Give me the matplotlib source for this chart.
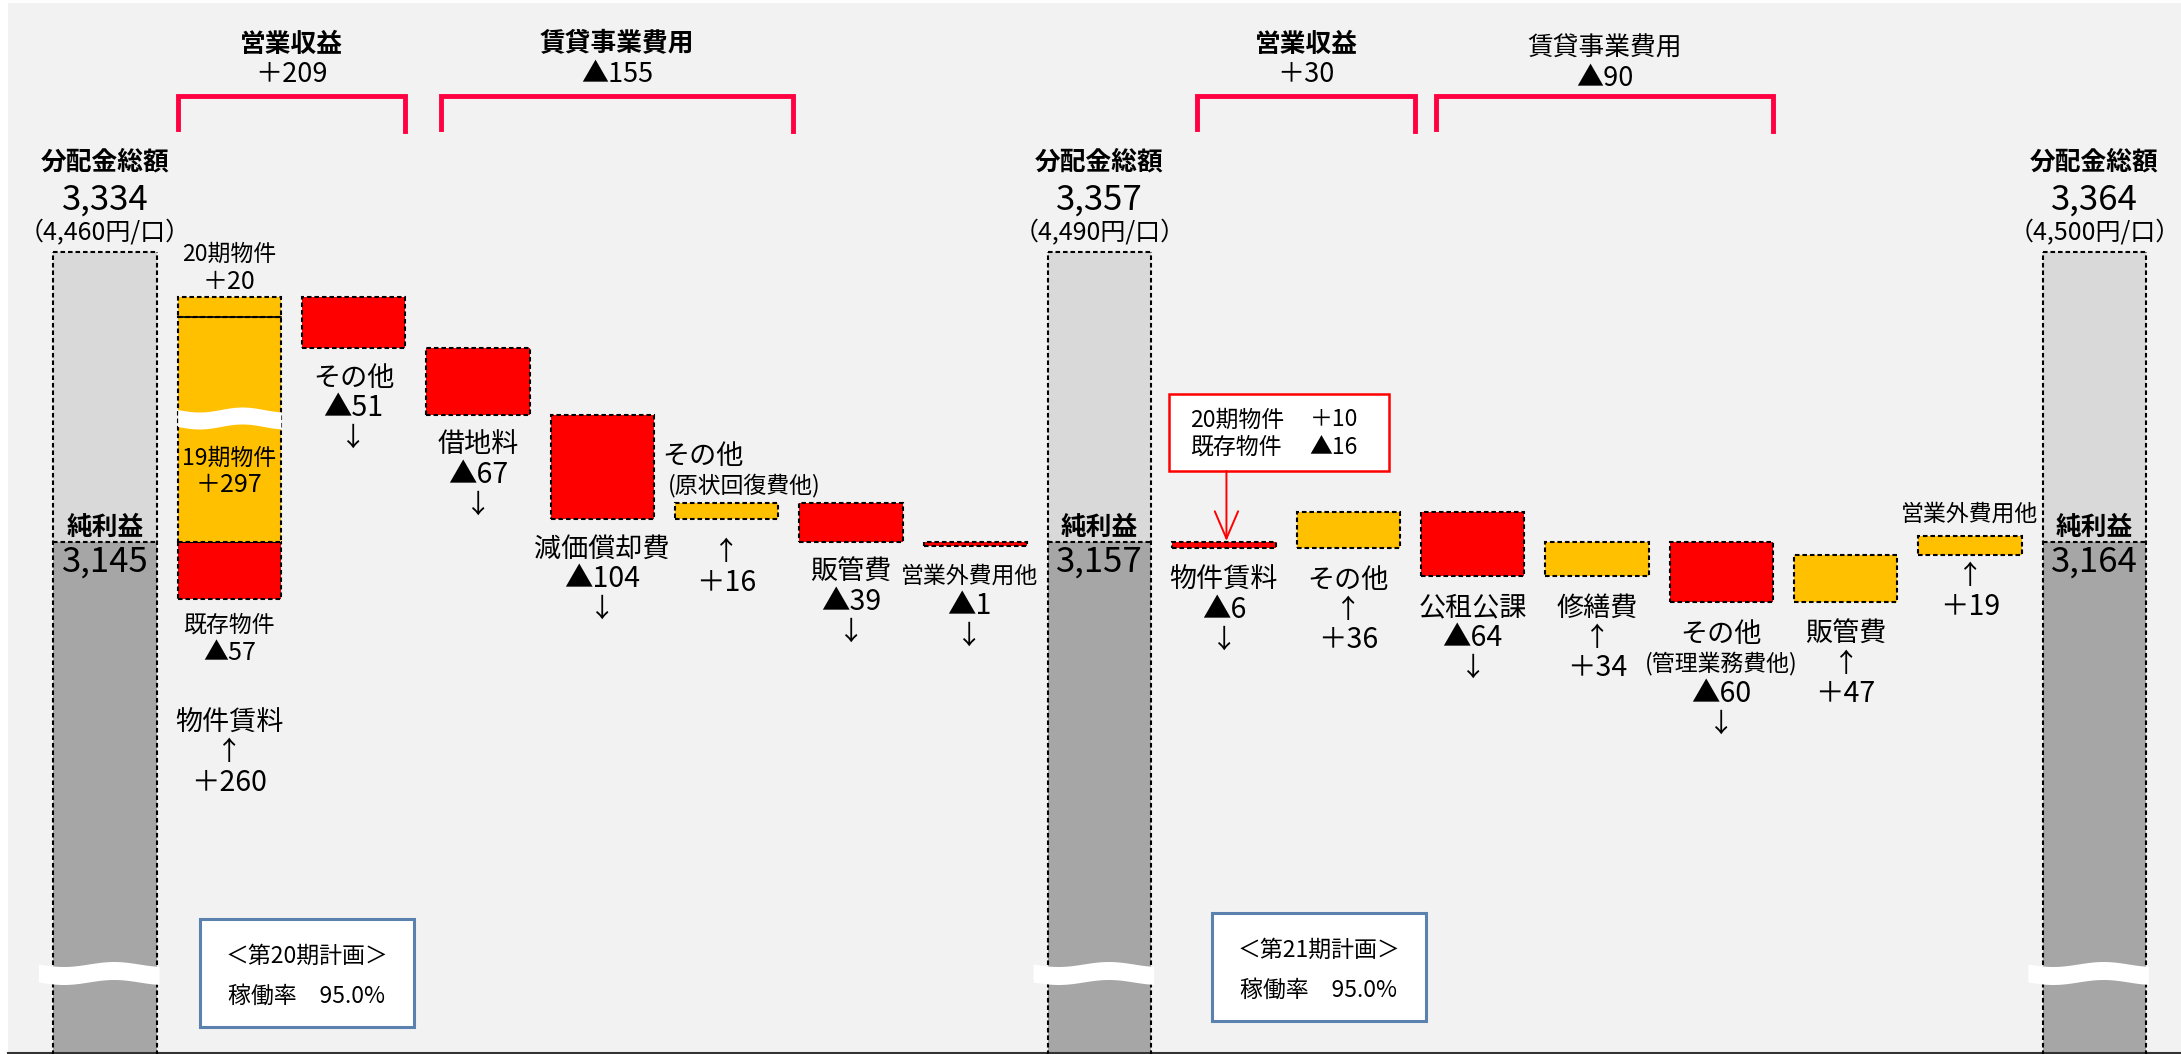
import matplotlib
matplotlib.use('Agg')
import matplotlib.pyplot as plt
from matplotlib.patches import Rectangle
import numpy as np

plt.rcParams['font.family'] = ['Noto Sans CJK JP', 'DejaVu Sans']

# ---- data (百万円) ----
net_income_lbl = ['3,145', '3,157', '3,164']
dist_total_lbl = ['3,334', '3,357', '3,364']
per_unit_lbl = ['（4,460円/口）', '（4,490円/口）', '（4,500円/口）']

g1_names = ['物件賃料', 'その他', '借地料', '減価償却費', 'その他\n(原状回復費他)', '販管費', '営業外費用他']
g1_vals = [260, -51, -67, -104, 16, -39, -1]
rent_part_names = ['既存物件', '19期物件', '20期物件']
rent_part_vals = [-57, 297, 20]

g2_names = ['物件賃料', 'その他', '公租公課', '修繕費', 'その他\n(管理業務費他)', '販管費', '営業外費用他']
g2_vals = [-6, 36, -64, 34, -60, 47, 19]
g2_rent_note = [('20期物件', 10), ('既存物件', -16)]

brackets = [('営業収益', 209, 1, 2, True), ('賃貸事業費用', -155, 3, 5, True),
            ('営業収益', 30, 9, 10, True), ('賃貸事業費用', -90, 11, 13, False)]
plans = [('＜第20期計画＞', '稼働率　95.0%'), ('＜第21期計画＞', '稼働率　95.0%')]

# ---- style ----
RED, YEL = '#FF0000', '#FFC000'
LGRAY, DGRAY = '#D9D9D9', '#A6A6A6'
PINK = '#FF0040'
DASH = (0, (2.2, 1.4))
W = 0.83
BREAK_CUT = 72      # part of the 19期物件 bar hidden by the break
TOTAL_TOP = 290
MIN_H = 4


def fmt(v):
    return ('＋%d' % v) if v > 0 else ('▲%d' % -v)


fig = plt.figure(figsize=(21.81, 10.54), dpi=100)
fig.patch.set_facecolor('white')
ax = fig.add_axes([0, 0, 1, 1])
ax.set_xlim(-0.8437, 16.697)
ax.set_ylim(-512, 542)
ax.axis('off')
ax.add_patch(Rectangle((8 / 2181, 0), 1, 1 - 3 / 1054, transform=ax.transAxes,
                       facecolor='#F2F2F2', edgecolor='none', zorder=0))
ax.plot([8 / 2181, 1], [1.5 / 1054, 1.5 / 1054], transform=ax.transAxes, color='#333333', lw=1.5)


def bar(x, y0, y1, color, z=2):
    h = max(abs(y1 - y0), MIN_H)
    ax.add_patch(Rectangle((x - W / 2, min(y0, y1) if y1 > y0 else max(y0, y1) - h), W, h,
                           facecolor=color, edgecolor='black', ls=DASH, lw=1.5, zorder=z))


def wave(x0, x1, yc, thick=17, amp=2.5):
    xs = np.linspace(x0, x1, 80)
    t = (xs - x0) / (x1 - x0)
    off = -amp * np.sin(2 * np.pi * 1.2 * t)
    ax.fill_between(xs, yc - thick / 2 + off, yc + thick / 2 + off, color='white', lw=0, zorder=4)


def txt(x, y, s, fs=19, bold=False, ha='center', **kw):
    ax.text(x, y, s, ha=ha, va='center', fontsize=fs, fontweight='bold' if bold else 'normal',
            color='black', zorder=6, **kw)


NAME_FS, VAL_FS, SMALL_FS, ARR_FS = 19.5, 20.5, 16.5, 19


def name_lines(name):
    out = []
    for p in name.split('\n'):
        fs = SMALL_FS if (p.startswith('(') or len(p) >= 6) else NAME_FS
        out.append((p, fs))
    return out


def stack(x, y, lines, step=-30):
    for i, (s, fs) in enumerate(lines):
        txt(x, y + i * step, s, fs=fs)


# ---- total bars ----
for i, s in enumerate([0, 8, 16]):
    ax.add_patch(Rectangle((s - W / 2, 0), W, TOTAL_TOP, facecolor=LGRAY, edgecolor='none', zorder=1))
    ax.add_patch(Rectangle((s - W / 2, -520), W, 520, facecolor=DGRAY, edgecolor='none', zorder=1))
    for xx in (s - W / 2, s + W / 2):
        ax.plot([xx, xx], [-520, TOTAL_TOP], color='black', ls=DASH, lw=1.5, zorder=3)
    for yy in (0, TOTAL_TOP):
        ax.plot([s - W / 2, s + W / 2], [yy, yy], color='black', ls=DASH, lw=1.5, zorder=3)
    wave(s - W / 2 - 0.12, s + W / 2 + 0.02, -431, thick=18)
    txt(s, 15, '純利益', fs=18.5, bold=True)
    txt(s, -20, net_income_lbl[i], fs=25)
    txt(s, TOTAL_TOP + 90, '分配金総額', fs=18.5, bold=True)
    txt(s, TOTAL_TOP + 52, dist_total_lbl[i], fs=25)
    txt(s, TOTAL_TOP + 19, per_unit_lbl[i], fs=18)

# ---- group 1 ----
x = 1
# decrease drawn downward from the base, increases stacked upward from the base
neg = rent_part_vals[0]
bar(x, 0, neg, RED)
up = 0
seg = {}
for nm, v in zip(rent_part_names[1:], rent_part_vals[1:]):
    dv = v - BREAK_CUT if nm == '19期物件' else v
    bar(x, up, up + dv, YEL)
    seg[nm] = (up, up + dv)
    up += dv
ax.plot([x - W / 2, x + W / 2], [seg['20期物件'][0]] * 2, color='black', lw=1.2, zorder=3)
wave(x - W / 2, x + W / 2, 124, thick=17)
txt(x, seg['20期物件'][1] + 43, '20期物件', fs=SMALL_FS)
txt(x, seg['20期物件'][1] + 15, fmt(rent_part_vals[2]), fs=18)
txt(x, 84, '19期物件', fs=SMALL_FS)
txt(x, 57, fmt(rent_part_vals[1]), fs=18)
txt(x, neg - 26, '既存物件', fs=SMALL_FS)
txt(x, neg - 54, fmt(neg), fs=18)
stack(x, -181, [(g1_names[0], NAME_FS), ('↑', ARR_FS), (fmt(g1_vals[0]), VAL_FS)])
level = up

for j in range(1, 7):
    x = 1 + j
    v = g1_vals[j]
    y0, y1 = level, level + v
    bar(x, y0, y1, YEL if v > 0 else RED)
    lo, hi = min(y0, y1), max(y0, y1)
    if v < 0:
        lo = min(lo, y0 - MIN_H)
    arrow = '↑' if v > 0 else '↓'
    if j == 4:
        nl = name_lines(g1_names[j])
        txt(x - 0.52, hi + 46, nl[0][0], fs=NAME_FS, ha='left')
        txt(x - 0.47, hi + 18, nl[1][0], fs=SMALL_FS, ha='left')
        stack(x, lo - 34, [(arrow, ARR_FS), (fmt(v), VAL_FS)])
    else:
        lines = name_lines(g1_names[j])
        lines += [(fmt(v), VAL_FS), (arrow, ARR_FS)] if v < 0 else [(arrow, ARR_FS), (fmt(v), VAL_FS)]
        stack(x - (0.05 if j == 6 else 0), lo - 30, lines)
    level = y1

# ---- group 2 ----
level = 0
for j in range(7):
    x = 9 + j
    v = g2_vals[j]
    y0, y1 = level, level + v
    bar(x, y0, y1, YEL if v > 0 else RED)
    lo, hi = min(y0, y1), max(y0, y1)
    arrow = '↑' if v > 0 else '↓'
    if j == 6:
        txt(x, hi + 22, g2_names[j], fs=SMALL_FS)
        stack(x, lo - 22, [(arrow, ARR_FS), (fmt(v), VAL_FS)])
    else:
        lines = name_lines(g2_names[j])
        lines += [(fmt(v), VAL_FS), (arrow, ARR_FS)] if v < 0 else [(arrow, ARR_FS), (fmt(v), VAL_FS)]
        stack(x, lo - 32, lines)
    level = y1

# ---- callout for group 2 rent ----
ax.add_patch(Rectangle((8.558, 71), 1.769, 77, facecolor='white', edgecolor='#FF0000', lw=1.8, zorder=5))
for k, (nm, v) in enumerate(g2_rent_note):
    txt(8.727, 122 - 27 * k, nm, fs=16.5, ha='left')
    txt(9.69, 122 - 27 * k, fmt(v), fs=16.5, ha='left')
ax.annotate('', xy=(9.02, 1), xytext=(9.02, 71),
            arrowprops=dict(arrowstyle='->,head_length=0.7,head_width=0.3', color='#FF0000',
                            lw=1.4, mutation_scale=28, shrinkA=0, shrinkB=0), zorder=6)

# ---- brackets ----
insets = [(0, 0), (0.12, 0.12), (0.2, 0.12), (0.12, 0)]
for (nm, v, a, b, bold), (dl, dr) in zip(brackets, insets):
    xl, xr = a - W / 2 + dl, b + W / 2 + dr
    dy = 0 if bold else -5
    ax.plot([xl, xl, xr, xr], [413, 446, 446, 411], color=PINK, lw=3.5, solid_joinstyle='miter', zorder=3)
    xc = (xl + xr) / 2
    txt(xc, 498 + dy, nm, fs=18.5, bold=bold)
    txt(xc, 468 + dy, fmt(v), fs=19.5)

# ---- plan boxes ----
for (l1, l2), (bx, by) in zip(plans, [(0.765, -485), (8.904, -479)]):
    ax.add_patch(Rectangle((bx, by), 1.722, 108, facecolor='white', edgecolor='#5B82AE', lw=2.2, zorder=5))
    txt(bx + 0.86, by + 71, l1, fs=16.5)
    txt(bx + 0.86, by + 31, l2, fs=16.5)

fig.savefig('out.png', dpi=100, facecolor=fig.get_facecolor())
